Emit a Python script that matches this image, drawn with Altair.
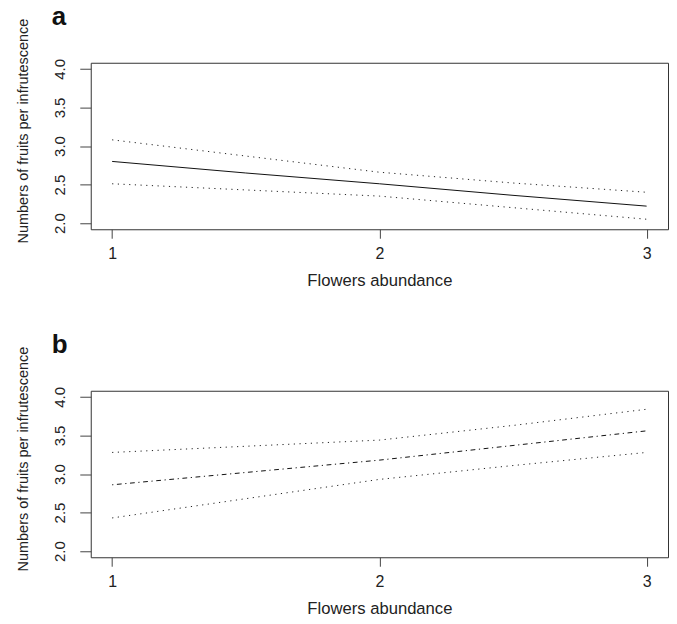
import altair as alt
import pandas as pd

# ---- data ----
x_vals = [1, 1.5, 2, 2.5, 3]
a_fit = [2.80, 2.65, 2.51, 2.36, 2.22]
a_upper = [3.08, 2.87, 2.66, 2.52, 2.40]
a_lower = [2.51, 2.43, 2.35, 2.20, 2.05]
b_fit = [2.86, 3.02, 3.18, 3.37, 3.56]
b_upper = [3.28, 3.36, 3.44, 3.63, 3.84]
b_lower = [2.43, 2.68, 2.93, 3.11, 3.28]
x_ticks = [1, 2, 3]
y_ticks = [2.0, 2.5, 3.0, 3.5, 4.0]
x_title = "Flowers abundance"
y_title = "Numbers of fruits per infrutescence"
panel_letters = ["a", "b"]

FONT = "Liberation Sans"
W, H = 579, 167


def panel(letter, fit, upper, lower, fit_dash):
    df = pd.DataFrame({
        "x": x_vals * 3,
        "y": fit + upper + lower,
        "series": ["fit"] * len(x_vals) + ["upper"] * len(x_vals) + ["lower"] * len(x_vals),
    })
    xenc = alt.X(
        "x:Q",
        scale=alt.Scale(domain=[0.92, 3.08], nice=False, zero=False),
        axis=alt.Axis(
            values=x_ticks, format="d", title=x_title, grid=False, domain=False,
            tickSize=9, tickColor="#444", tickWidth=1,
            labelFont=FONT, labelFontSize=16, labelColor="#222",
            labelBaseline="alphabetic", labelPadding=20, labelAlign="center",
            titleFont=FONT, titleFontSize=16.7, titleFontWeight="normal", titleColor="#222",
            titleBaseline="alphabetic", titleAlign="center", titleX=W / 2, titleY=56,
        ),
    )
    yenc = alt.Y(
        "y:Q",
        scale=alt.Scale(domain=[1.92, 4.08], nice=False, zero=False),
        axis=alt.Axis(
            values=y_ticks, format=".1f", title=y_title, grid=False, domain=False,
            tickSize=11, tickColor="#444", tickWidth=1,
            labelFont=FONT, labelFontSize=15, labelColor="#222", labelAngle=-90,
            labelBaseline="alphabetic", labelAlign="center", labelPadding=15,
            titleFont=FONT, titleFontSize=14.5, titleFontWeight="normal", titleColor="#222",
            titleAngle=-90, titleBaseline="alphabetic", titleAlign="center",
            titleX=-63, titleY=68,
        ),
    )
    base = alt.Chart(df)
    if fit_dash:
        fit_mark = base.mark_line(color="#111", strokeWidth=1, strokeDash=fit_dash)
    else:
        fit_mark = base.mark_line(color="#111", strokeWidth=1)
    fit_layer = fit_mark.transform_filter(alt.datum.series == "fit").encode(x=xenc, y=yenc)
    ci_layer = (
        base.transform_filter(alt.datum.series != "fit")
        .mark_line(color="#222", strokeWidth=1, strokeDash=[1.2, 4.5])
        .encode(x=xenc, y=yenc, detail="series:N")
    )
    letter_layer = (
        alt.Chart(pd.DataFrame({"t": [letter]}))
        .mark_text(font=FONT, fontSize=26, fontWeight="bold", color="#111",
                   align="left", baseline="alphabetic")
        .encode(x=alt.value(-39), y=alt.value(-38), text="t:N")
    )
    return alt.layer(ci_layer, fit_layer, letter_layer).properties(width=W, height=H)


chart = alt.vconcat(
    panel(panel_letters[0], a_fit, a_upper, a_lower, None),
    panel(panel_letters[1], b_fit, b_upper, b_lower, [1.2, 3.6, 4.8, 3.6]),
    spacing=41,
).properties(
    padding={"left": 7, "top": -6, "right": 0, "bottom": 0},
    background="white",
).configure_view(stroke="#333", strokeWidth=1)

chart.save("out.html", embed_options={"renderer": "svg", "actions": False})
